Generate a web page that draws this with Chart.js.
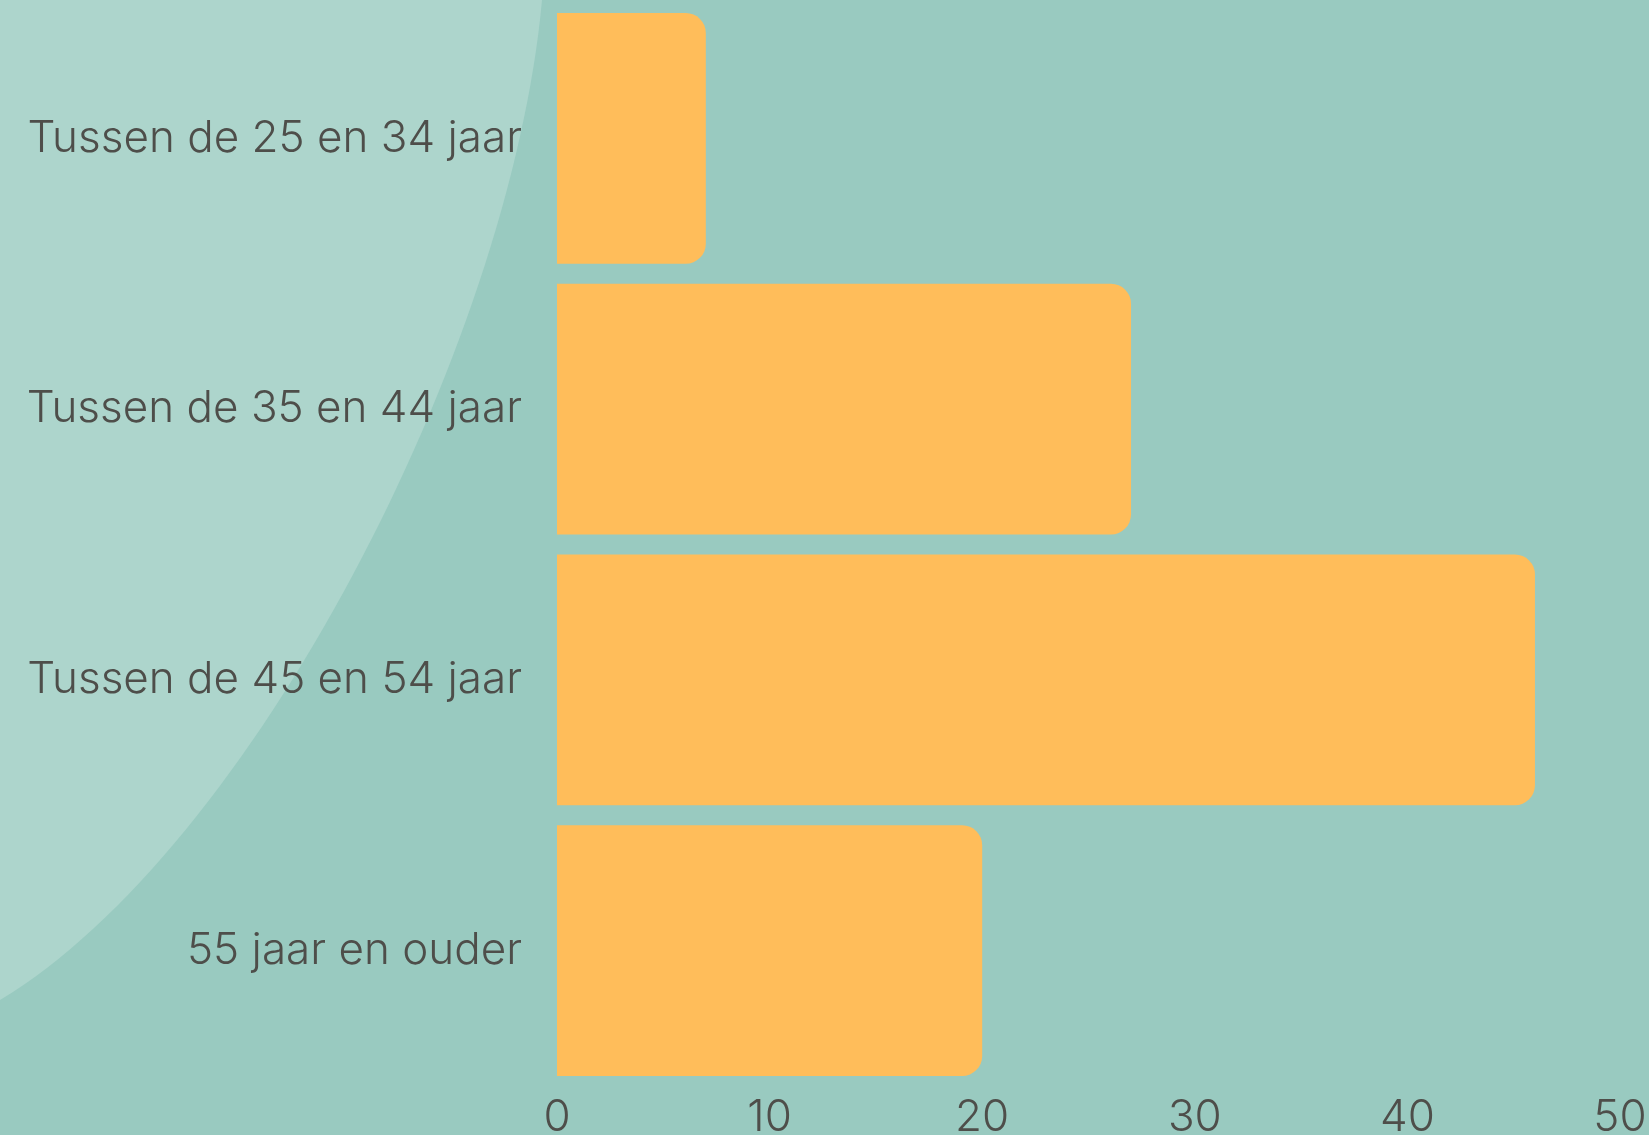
<!DOCTYPE html>
<html>
<head>
<meta charset="utf-8">
<script src="https://cdn.jsdelivr.net/npm/chart.js@4/dist/chart.umd.min.js"></script>
<style>
  html, body { margin: 0; padding: 0; background: #99CAC0; overflow: hidden; }
  #wrap { position: relative; width: 1649px; height: 1135px; }
  canvas { display: block; }
</style>
</head>
<body>
<div id="wrap"><canvas id="c" width="1649" height="1135"></canvas></div>
<script>
const categories = [
  "Tussen de 25 en 34 jaar",
  "Tussen de 35 en 44 jaar",
  "Tussen de 45 en 54 jaar",
  "55 jaar en ouder"
];
const values = [7, 27, 46, 20];
const xTicks = [0, 10, 20, 30, 40, 50];

const textColor = "#4E4E4A";
const fontFamily = "Inter, 'Open Sans', sans-serif";

const bgPlugin = {
  id: "bg",
  beforeDraw(chart) {
    const ctx = chart.ctx;
    const w = chart.width, h = chart.height;
    ctx.save();
    ctx.fillStyle = "#99CAC0";
    ctx.fillRect(0, 0, w, h);
    ctx.fillStyle = "#ADD5CC";
    ctx.beginPath();
    ctx.moveTo(0, 0);
    ctx.lineTo(542, 0);
    ctx.bezierCurveTo(510, 350, 250, 850, 0, 1000);
    ctx.closePath();
    ctx.fill();
    ctx.restore();
  }
};

new Chart(document.getElementById("c"), {
  type: "bar",
  data: {
    labels: categories,
    datasets: [{
      data: values,
      backgroundColor: "#FFBD5A",
      borderWidth: 0,
      borderRadius: 20,
      barPercentage: 0.926,
      categoryPercentage: 1.0
    }]
  },
  options: {
    indexAxis: "y",
    responsive: false,
    animation: false,
    devicePixelRatio: 1,
    layout: { padding: { top: 3, right: 0, left: 0, bottom: 0 } },
    plugins: {
      legend: { display: false },
      tooltip: { enabled: false },
      title: { display: false }
    },
    scales: {
      x: {
        min: 0,
        max: 50,
        afterBuildTicks(scale) { scale.ticks = xTicks.map(v => ({ value: v })); },
        afterFit(scale) {
          scale.height = 49;
          scale.paddingLeft = 0;
          scale.paddingRight = 29;
          scale.paddingTop = 0;
          scale.paddingBottom = 0;
        },
        grid: { display: false, drawTicks: false },
        border: { display: false },
        ticks: {
          color: textColor,
          padding: 5,
          font: { family: fontFamily, size: 44, weight: 300 }
        }
      },
      y: {
        afterFit(scale) {
          scale.width = 557;
          scale.paddingTop = 0;
          scale.paddingBottom = 0;
          scale.paddingLeft = 0;
          scale.paddingRight = 0;
        },
        grid: { display: false, drawTicks: false },
        border: { display: false },
        ticks: {
          color: textColor,
          padding: 35,
          font: { family: fontFamily, size: 44, weight: 300 }
        }
      }
    }
  },
  plugins: [bgPlugin]
});
</script>
</body>
</html>
